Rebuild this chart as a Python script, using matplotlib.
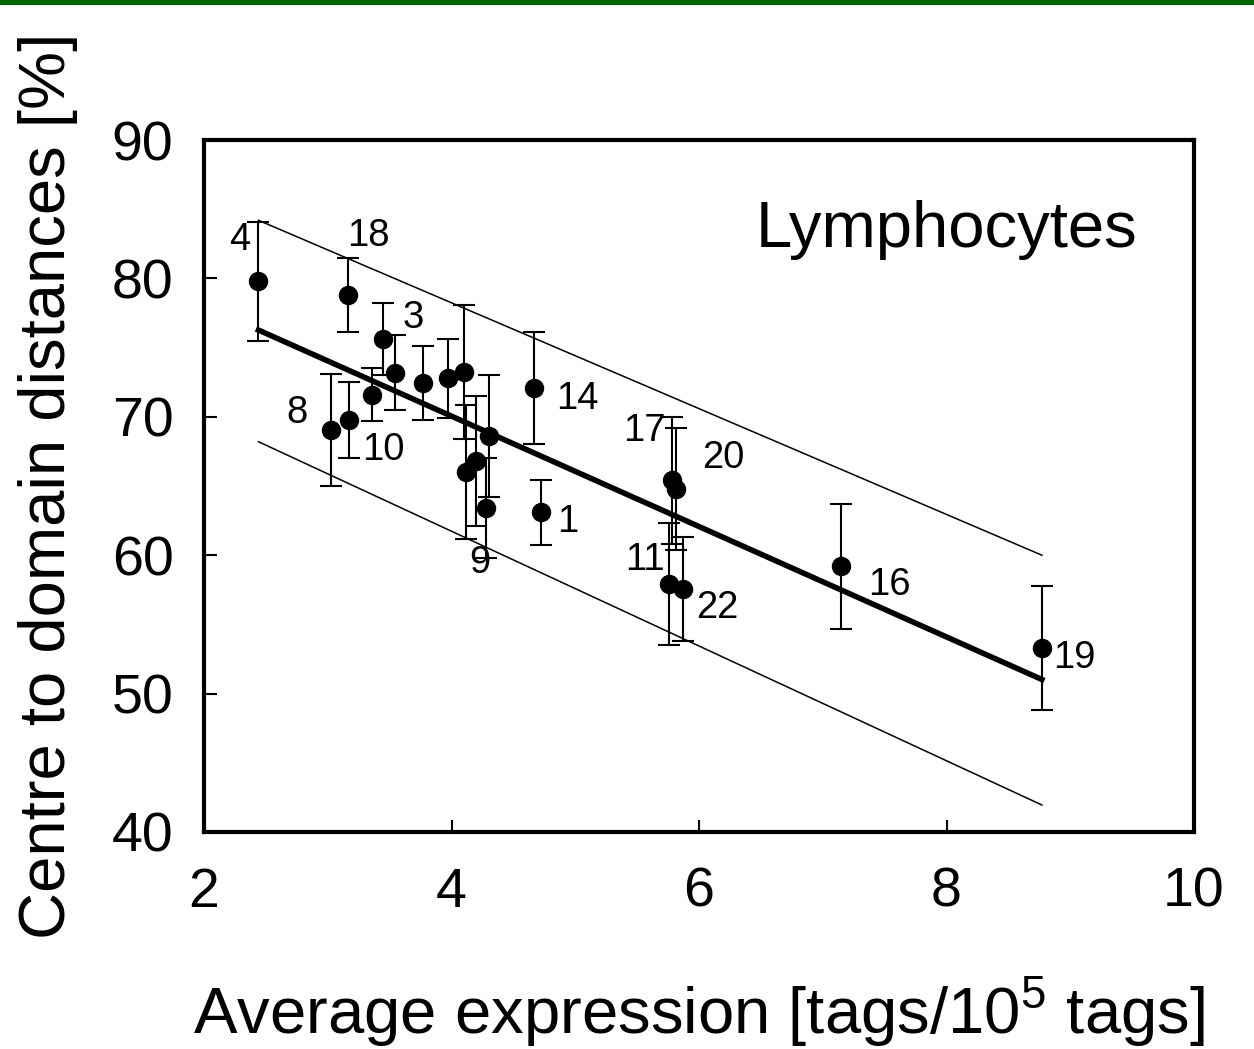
"""
    Centre to domain distance vs average expression (lymphocytes)
    plot.py
"""

import numpy as np
import matplotlib.pyplot as plt
from matplotlib.patches import Rectangle

plt.rcParams['font.family'] = ['Liberation Sans', 'DejaVu Sans']
plt.rcParams['mathtext.fontset'] = 'custom'
plt.rcParams['mathtext.rm'] = 'Liberation Sans'

# values
CHROMS = ['4', '18', '3', '', '', '8', '10', '', '', '', '14',
          '', '', '', '9', '1', '17', '20', '11', '22', '16', '19']
EXPR = [2.44, 3.16, 3.45, 3.54, 3.36, 3.03, 3.17, 3.77, 3.97, 4.10, 4.67,
        4.30, 4.20, 4.12, 4.28, 4.72, 5.785, 5.81, 5.76, 5.87, 7.145, 8.77]
DIST = [79.8, 78.8, 75.6, 73.2, 71.6, 69.05, 69.8, 72.45, 72.8, 73.25, 72.1,
        68.6, 66.8, 66.0, 63.4, 63.1, 65.4, 64.8, 57.9, 57.55, 59.2, 53.3]
ERR = [4.3, 2.7, 2.6, 2.7, 1.9, 4.05, 2.75, 2.65, 2.85, 4.85, 4.05,
       4.4, 4.7, 4.85, 3.6, 2.35, 4.6, 4.4, 4.4, 3.75, 4.5, 4.5]

# label positions (data coords), same order as CHROMS
LABEL_X = [2.29, 3.325, 3.69, 0, 0, 2.75, 3.45, 0, 0, 0, 5.02,
           0, 0, 0, 4.23, 4.94, 5.56, 6.20, 5.56, 6.145, 7.54, 9.03]
LABEL_Y = [82.8, 83.06, 77.14, 0, 0, 70.27, 67.6, 0, 0, 0, 71.29,
           0, 0, 0, 59.44, 62.4, 68.97, 67.02, 59.65, 56.18, 57.85, 52.57]

# regression line ends and band lines at the same ends
FIT_X = [2.44, 8.77]
FIT_Y = [76.27, 51.02]
UPPER_Y = [84.2, 60.0]
LOWER_Y = [68.2, 41.95]

X_TICKS = [2, 4, 6, 8, 10]
Y_TICKS = [40, 50, 60, 70, 80, 90]


def main():
    fig = plt.figure(figsize=(12.54, 10.49), dpi=100)
    ax = fig.add_axes([0.1627, 0.2069, 0.7895, 0.6596])

    # green strip on top
    fig.patches.append(Rectangle((0, 1 - 5 / 1049), 1, 5 / 1049,
                                 transform=fig.transFigure,
                                 facecolor='#006400', edgecolor='none'))

    ax.plot(FIT_X, FIT_Y, color='black', lw=4, zorder=3)
    ax.plot(FIT_X, UPPER_Y, color='black', lw=1.1, zorder=2)
    ax.plot(FIT_X, LOWER_Y, color='black', lw=1.1, zorder=2)

    ax.errorbar(EXPR, DIST, yerr=ERR, fmt='o', color='black', ms=13,
                elinewidth=1.5, capsize=8, capthick=1.5, zorder=4)

    for lab, lx, ly in zip(CHROMS, LABEL_X, LABEL_Y):
        if lab:
            ax.text(lx, ly, lab, fontsize=27.5, ha='center', va='center')

    ax.text(0.943, 0.87, 'Lymphocytes', transform=ax.transAxes,
            fontsize=47, ha='right', va='center')

    ax.set_xlim(2, 10)
    ax.set_ylim(40, 90)
    ax.set_xticks(X_TICKS)
    ax.set_yticks(Y_TICKS)
    ax.tick_params(direction='in', length=9, width=1.5, labelsize=40)
    ax.tick_params(axis='x', pad=25)
    ax.tick_params(axis='y', pad=22)
    for sp in ax.spines.values():
        sp.set_linewidth(3)

    ax.set_xlabel(r'Average expression [tags/10$^{\mathregular{5}}$ tags]',
                  fontsize=47, labelpad=40)
    ax.set_ylabel('Centre to domain distances [%]', fontsize=47, labelpad=24)

    fig.savefig('out.png', dpi=100)


if __name__ == "__main__":
    main()
